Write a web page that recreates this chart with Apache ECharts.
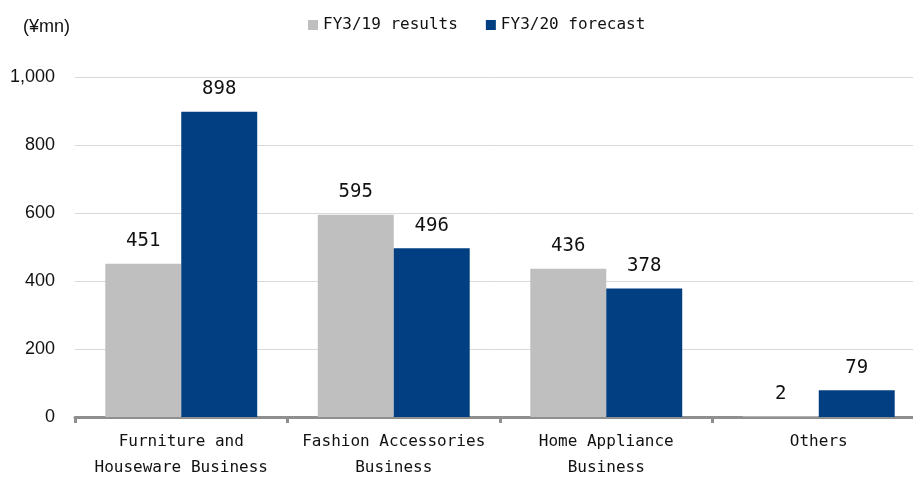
<!DOCTYPE html>
<html><head><meta charset="utf-8">
<script src="https://cdn.jsdelivr.net/npm/echarts@6/dist/echarts.min.js"></script>
<style>html,body{margin:0;padding:0;background:#fff}#c{width:913px;height:482px}</style>
</head><body><div id="c"></div>
<script>
const categories = ['Furniture and\nHouseware Business', 'Fashion Accessories\nBusiness', 'Home Appliance\nBusiness', 'Others'];
const fy19 = [451, 595, 436, 2];
const fy20 = [898, 496, 378, 79];
const seriesNames = ['FY3/19 results', 'FY3/20 forecast'];
const unitLabel = '(¥mn)';
const MONO = '"DejaVu Sans Mono", monospace';
const SANS = '"Liberation Sans", Arial, sans-serif';
const chart = echarts.init(document.getElementById('c'));
const lbl = {show: true, position: 'top', distance: 13, color: '#111', fontSize: 19, fontFamily: MONO};
chart.setOption({
  animation: false,
  textStyle: {fontFamily: MONO},
  graphic: [{type: 'text', left: 23, top: 18, style: {text: unitLabel, fontSize: 18, fill: '#111', fontFamily: SANS}}],
  legend: {
    top: 12, left: 303, itemWidth: 10, itemHeight: 10, itemGap: 28, icon: 'rect',
    textStyle: {fontSize: 16, color: '#111', fontFamily: MONO},
    data: seriesNames
  },
  grid: {left: 75, width: 850, top: 77, bottom: 65, containLabel: false, outerBoundsMode: 'none'},
  xAxis: {
    type: 'category', data: categories,
    axisLine: {lineStyle: {color: '#8f8f8f', width: 3}},
    axisTick: {show: true, length: 6, lineStyle: {color: '#8f8f8f', width: 3}},
    axisLabel: {color: '#111', fontSize: 16, lineHeight: 26, margin: 12, interval: 0, fontFamily: MONO}
  },
  yAxis: {
    type: 'value', min: 0, max: 1000, interval: 200,
    axisLine: {show: false}, axisTick: {show: false},
    splitLine: {lineStyle: {color: '#d9d9d9', width: 1}},
    axisLabel: {color: '#111', fontSize: 18, margin: 20, fontFamily: SANS,
      formatter: v => v.toLocaleString('en-US')}
  },
  series: [
    {name: seriesNames[0], type: 'bar', data: fy19, barGap: '0%', barCategoryGap: '28.5%',
     itemStyle: {color: '#bfbfbf'}, label: lbl},
    {name: seriesNames[1], type: 'bar', data: fy20, barGap: '0%', barCategoryGap: '28.5%',
     itemStyle: {color: '#023f82'}, label: lbl}
  ]
});
</script></body></html>
